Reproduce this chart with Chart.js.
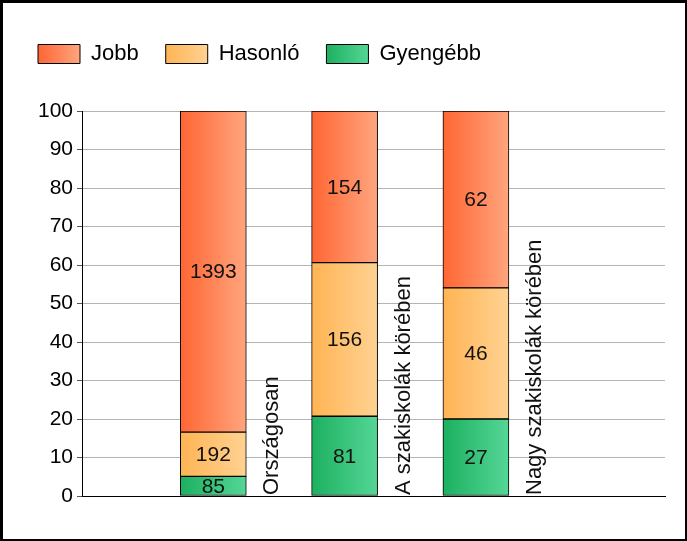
<!DOCTYPE html>
<html lang="hu">
<head>
<meta charset="UTF-8">
<title>Jobb / Hasonló / Gyengébb</title>
<script src="https://cdn.jsdelivr.net/npm/chart.js"></script>
<style>
    html, body {
        margin: 0;
        padding: 0;
        background: #fff;
    }
    #wrap {
        width: 687px;
        height: 541px;
        box-sizing: border-box;
        border: 2px solid #000;
        border-top-width: 3px;
        border-left-width: 3px;
        position: relative;
    }
    canvas {
        display: block;
    }
</style>
</head>
<body>

<div id="wrap">
    <canvas id="myChart" width="682" height="536"></canvas>
</div>

<script>
// data
var categories = ['Országosan', 'A szakiskolák körében', 'Nagy szakiskolák körében'];
var seriesNames = ['Jobb', 'Hasonló', 'Gyengébb'];
var jobbCounts = [1393, 154, 62];
var hasonloCounts = [192, 156, 46];
var gyengebbCounts = [85, 81, 27];
var yTicks = [0, 10, 20, 30, 40, 50, 60, 70, 80, 90, 100];

// gradient colours, left -> right
var colorsLeft = ['#ff6633', '#ffb454', '#1cb060'];
var colorsRight = ['#ffa57e', '#ffd292', '#55d696'];

var totals = categories.map(function (c, i) {
    return jobbCounts[i] + hasonloCounts[i] + gyengebbCounts[i];
});

function toPercent(counts) {
    return counts.map(function (v, i) { return { x: i + 1, y: v / totals[i] * 100 }; });
}

var countSets = [jobbCounts, hasonloCounts, gyengebbCounts];
var barHalf = 33;

function barGradient(si) {
    return function (context) {
        var chart = context.chart;
        var xs = chart.scales && chart.scales.x;
        if (!context.parsed || !xs) return colorsLeft[si];
        var cx = xs.getPixelForValue(context.parsed.x);
        var g = chart.ctx.createLinearGradient(cx - barHalf, 0, cx + barHalf, 0);
        g.addColorStop(0, colorsLeft[si]);
        g.addColorStop(1, colorsRight[si]);
        return g;
    };
}

// order: Gyengébb at bottom, Jobb on top
var datasets = [2, 1, 0].map(function (si) {
    return {
        label: seriesNames[si],
        data: toPercent(countSets[si]),
        counts: countSets[si],
        seriesIndex: si,
        backgroundColor: barGradient(si),
        borderColor: '#000',
        borderWidth: 1,
        borderSkipped: false,
        barThickness: 66
    };
});

var fontFamily = '"Liberation Sans", Arial, sans-serif';

// counts inside the bars + rotated category labels
var labelPlugin = {
    id: 'labelPlugin',
    beforeInit: function (chart) {
        // extra room under the legend, like the original
        var lg = chart.legend;
        if (!lg) return;
        var fit = lg.fit;
        lg.fit = function () {
            fit.call(lg);
            lg.height += 36;
        };
    },
    afterDatasetsDraw: function (chart) {
        var ctx = chart.ctx;
        ctx.save();
        ctx.fillStyle = '#111';
        ctx.font = '21px ' + fontFamily;
        ctx.textAlign = 'center';
        ctx.textBaseline = 'middle';
        chart.data.datasets.forEach(function (ds, di) {
            var meta = chart.getDatasetMeta(di);
            meta.data.forEach(function (el, i) {
                ctx.fillText(String(ds.counts[i]), el.x, (el.y + el.base) / 2 + 1);
            });
        });

        var xs = chart.scales.x;
        var bottom = chart.chartArea.bottom;
        ctx.font = '22px ' + fontFamily;
        categories.forEach(function (c, i) {
            var x = xs.getPixelForValue(i + 1) + 59;
            ctx.save();
            ctx.translate(x, bottom - 1);
            ctx.rotate(-Math.PI / 2);
            ctx.textAlign = 'left';
            ctx.textBaseline = 'middle';
            ctx.fillText(c, 0, 0);
            ctx.restore();
        });
        ctx.restore();
    },
    beforeDraw: function (chart) {
        // give the legend boxes the same gradient as the bars
        var lg = chart.legend;
        if (!lg || !lg.legendItems || !lg.legendHitBoxes) return;
        lg.legendItems.forEach(function (item, i) {
            var hb = lg.legendHitBoxes[i];
            var si = seriesNames.indexOf(item.text);
            var g = chart.ctx.createLinearGradient(hb.left, 0, hb.left + 42, 0);
            g.addColorStop(0, colorsLeft[si]);
            g.addColorStop(1, colorsRight[si]);
            item.fillStyle = g;
        });
    }
};

var ctx = document.getElementById('myChart').getContext('2d');
var myChart = new Chart(ctx, {
    type: 'bar',
    data: { datasets: datasets },
    options: {
        responsive: false,
        animation: false,
        layout: {
            padding: { left: 8, top: 13, right: 20, bottom: 35 }
        },
        plugins: {
            legend: {
                position: 'top',
                align: 'start',
                labels: {
                    boxWidth: 42,
                    boxHeight: 19,
                    padding: 27,
                    color: '#000',
                    font: { family: fontFamily, size: 22 },
                    generateLabels: function (chart) {
                        return seriesNames.map(function (name, si) {
                            return {
                                text: name,
                                fillStyle: colorsLeft[si],
                                strokeStyle: '#000',
                                lineWidth: 1,
                                datasetIndex: 2 - si
                            };
                        });
                    }
                }
            },
            tooltip: { enabled: false }
        },
        scales: {
            x: {
                type: 'linear',
                stacked: true,
                offset: false,
                min: 0,
                max: 4.44,
                grid: { display: false },
                ticks: { display: false },
                border: { display: true, color: '#000', width: 1 }
            },
            y: {
                stacked: true,
                min: 0,
                max: 100,
                afterFit: function (scale) { scale.width = 71; },
                afterBuildTicks: function (scale) {
                    scale.ticks = yTicks.map(function (v) { return { value: v }; });
                },
                grid: {
                    color: '#b4b4b4',
                    tickLength: 5,
                    tickColor: '#555'
                },
                border: { display: true, color: '#000', width: 1 },
                ticks: {
                    color: '#000',
                    padding: 4,
                    font: { family: fontFamily, size: 21 }
                }
            }
        }
    },
    plugins: [labelPlugin]
});
</script>

</body>
</html>
